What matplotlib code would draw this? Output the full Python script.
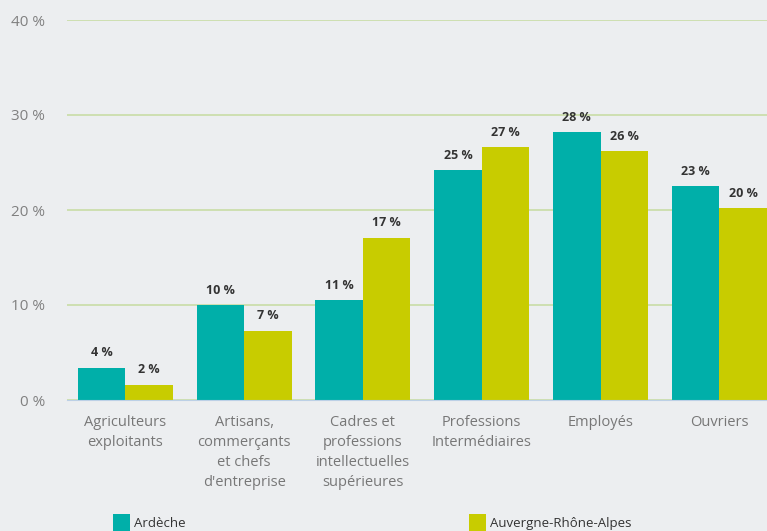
import matplotlib.pyplot as plt
from matplotlib.patches import Rectangle
import numpy as np

plt.rcParams['font.family'] = ['Open Sans', 'DejaVu Sans']

categories = ["Agriculteurs\nexploitants", "Artisans,\ncommerçants\net chefs\nd'entreprise",
              "Cadres et\nprofessions\nintellectuelles\nsupérieures", "Professions\nIntermédiaires",
              "Employés", "Ouvriers"]
series_names = ["Ardèche", "Auvergne-Rhône-Alpes"]
ardeche = [3.4, 10.0, 10.5, 24.2, 28.2, 22.5]
aura = [1.6, 7.3, 17.1, 26.6, 26.2, 20.2]
ardeche_labels = ["4 %", "10 %", "11 %", "25 %", "28 %", "23 %"]
aura_labels = ["2 %", "7 %", "17 %", "27 %", "26 %", "20 %"]
yticks = [0, 10, 20, 30, 40]

bg = "#eceef0"
colors = ["#00afa9", "#c8cc00"]

fig = plt.figure(figsize=(7.67, 5.31), dpi=100, facecolor=bg)
ax = fig.add_axes([67 / 767, 1 - 400 / 531, 1 - 67 / 767, 380 / 531])
ax.set_facecolor(bg)

x = np.arange(len(categories))
w = 0.4
b1 = ax.bar(x - w / 2, ardeche, w, color=colors[0], zorder=3)
b2 = ax.bar(x + w / 2, aura, w, color=colors[1], zorder=3)

for bars, labs in ((b1, ardeche_labels), (b2, aura_labels)):
    for r, lab in zip(bars, labs):
        ax.annotate(lab, (r.get_x() + r.get_width() / 2, r.get_height()),
                    xytext=(0, 6), textcoords="offset points", ha="center", va="bottom",
                    fontsize=9, fontweight="bold", color="#333333", clip_on=False, zorder=4)

ax.set_xlim(-0.49, 5.40)
ax.set_ylim(0, 40)
ax.set_yticks(yticks)
ax.set_yticklabels([f"{t} %" for t in yticks], fontsize=11, color="#808080")
ax.set_xticks(x)
ax.set_xticklabels(categories, fontsize=10.5, color="#777777", linespacing=1.45)
ax.tick_params(axis="both", length=0)
ax.tick_params(axis="y", pad=16)
ax.tick_params(axis="x", pad=11)

ax.grid(axis="y", color="#c9dca6", linewidth=1.2, zorder=0)
for s in ["top", "right", "left"]:
    ax.spines[s].set_visible(False)
ax.spines["bottom"].set_color("#bcd0e6")
ax.spines["bottom"].set_zorder(5)

# legend drawn along the bottom edge
for name, c, px in zip(series_names, colors, [113, 469]):
    fig.patches.append(Rectangle((px / 767, 0), 17 / 767, 17 / 531, transform=fig.transFigure,
                                 facecolor=c, edgecolor="none"))
    fig.text((px + 21) / 767, 1 / 531, name, fontsize=9.5, color="#333333", ha="left", va="bottom")

fig.savefig("out.png", dpi=100, facecolor=bg)
